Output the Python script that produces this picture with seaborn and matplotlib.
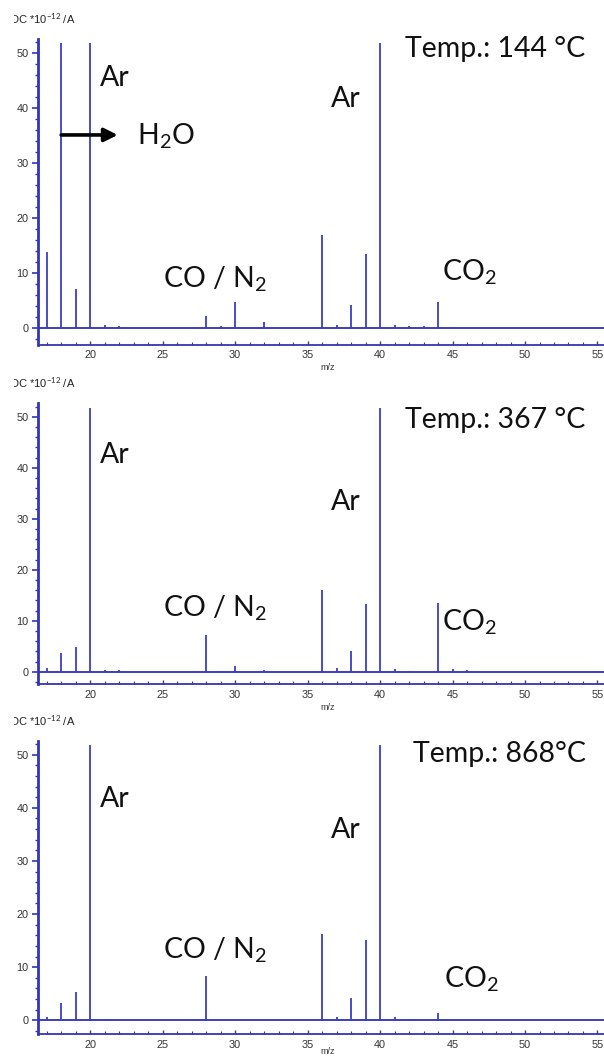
import matplotlib
matplotlib.use("Agg")
import matplotlib.pyplot as plt
import numpy as np
import pandas as pd
import seaborn as sns
from matplotlib.ticker import MultipleLocator
from matplotlib.transforms import Bbox, TransformedBbox

# m/z channels and ion currents (x 1e-12 A) at three temperatures
mz = list(range(17, 56))

current_144 = [13.8, 51.8, 7.1, 51.8, 0.5, 0.3, 0, 0, 0, 0, 0, 2.1, 0.3, 4.7, 0,
               1.1, 0, 0, 0, 16.9, 0.5, 4.2, 13.4, 51.8, 0.6, 0.3, 0.3, 4.8, 0.2,
               0, 0, 0, 0, 0, 0, 0, 0, 0, 0]
current_367 = [0.8, 3.7, 4.8, 51.8, 0.4, 0.3, 0, 0, 0, 0, 0, 7.3, 0.2, 1.1, 0,
               0.4, 0, 0, 0, 16.0, 0.8, 4.0, 13.3, 51.8, 0.6, 0.2, 0, 13.4, 0.6,
               0.3, 0, 0, 0, 0, 0, 0, 0, 0, 0]
current_868 = [0.6, 3.3, 5.4, 51.8, 0.3, 0, 0, 0, 0, 0, 0, 8.4, 0, 0, 0,
               0, 0, 0, 0, 16.3, 0.6, 4.2, 15.1, 51.8, 0.6, 0.3, 0, 1.3, 0,
               0, 0, 0, 0, 0, 0, 0, 0, 0, 0]

temperature_labels = ["Temp.: 144 °C", "Temp.: 367 °C", "Temp.: 868°C"]

df = pd.DataFrame({
    "mz": mz * 3,
    "current": current_144 + current_367 + current_868,
    "panel": [0] * len(mz) + [1] * len(mz) + [2] * len(mz),
})

sns.set_style("ticks")
plt.rcParams["font.family"] = ["Lato", "DejaVu Sans"]
plt.rcParams["mathtext.fontset"] = "custom"
plt.rcParams["mathtext.rm"] = "Lato"
plt.rcParams["mathtext.it"] = "Lato"

W, H = 604, 1057
BLUE = "#3d3dc4"
AXBLUE = "#3434b8"
TICKFONT = ["Liberation Sans", "DejaVu Sans"]

fig = plt.figure(figsize=(W / 100, H / 100), dpi=100)

# panel frames in pixels (top, bottom) and y ranges
frames = [(38.7, 344.5, (-3.0, 52.6)),
          (403.0, 684.0, (-2.4, 52.7)),
          (741.0, 1034.0, (-2.6, 52.6))]

# label positions (x left, baseline y) per panel
ar1_pos = [(20.7, 44.0), (20.7, 41.0), (20.7, 40.2)]
ar2_pos = [(36.6, 40.2), (36.6, 31.8), (36.6, 34.3)]
temp_pos = [(41.7, 49.3), (41.7, 47.8), (42.3, 48.7)]
co_pos = [(25.0, 7.45), (25.0, 10.9), (25.05, 11.6)]
co2_pos = [(44.3, 8.7), (44.3, 8.1), (44.4, 6.2)]

BIG = 20.5
xlim = (16.4, 55.45)
mz_label_y = [368, 707, 1052]

for i, (top, bottom, ylim) in enumerate(frames):
    ax = fig.add_axes([38 / W, 1 - bottom / H, (W - 38) / W, (bottom - top) / H])
    sub = df[df["panel"] == i]
    ax.vlines(sub["mz"], 0, sub["current"], color=BLUE, lw=1.3)
    ax.axhline(0, color=BLUE, lw=1.4)
    ax.set_xlim(*xlim)
    ax.set_ylim(*ylim)
    sns.despine(ax=ax, top=True, right=True)
    ax.spines["left"].set_color(AXBLUE)
    ax.spines["left"].set_linewidth(2.0)
    ax.spines["bottom"].set_color(AXBLUE)
    ax.spines["bottom"].set_linewidth(1.3)

    ax.xaxis.set_major_locator(MultipleLocator(5))
    ax.xaxis.set_minor_locator(MultipleLocator(1))
    ax.yaxis.set_major_locator(MultipleLocator(10))
    ax.yaxis.set_minor_locator(MultipleLocator(2))
    ax.set_xticks(range(20, 56, 5))
    ax.set_yticks(range(0, 51, 10))
    ax.tick_params(axis="x", which="major", direction="in", length=3, width=1,
                   color="#444444", pad=4, labelsize=7.8, labelcolor="#333333")
    ax.tick_params(axis="x", which="minor", direction="in", length=2, width=0.8,
                   color="#444444")
    ax.tick_params(axis="y", which="major", direction="out", length=4, width=1.2,
                   color=AXBLUE, pad=3, labelsize=7.8, labelcolor="#333333")
    ax.tick_params(axis="y", which="minor", direction="out", length=2.5,
                   width=1, color=AXBLUE)
    for lab in ax.get_xticklabels() + ax.get_yticklabels():
        lab.set_family(TICKFONT)
    ax.set_facecolor("white")
    ax.grid(False)

    ax.text(*ar1_pos[i], "Ar", fontsize=BIG, ha="left", va="baseline", color="#111111")
    ax.text(*ar2_pos[i], "Ar", fontsize=BIG, ha="left", va="baseline", color="#111111")
    ax.text(*temp_pos[i], temperature_labels[i], fontsize=BIG, ha="left",
            va="baseline", color="#111111")
    ax.text(*co_pos[i], r"CO / N$_\mathrm{2}$", fontsize=BIG, ha="left",
            va="baseline", color="#111111")
    ax.text(*co2_pos[i], r"CO$_\mathrm{2}$", fontsize=BIG, ha="left",
            va="baseline", color="#111111")

    if i == 0:
        ax.annotate("", xy=(21.9, 35.1), xytext=(18.0, 35.1),
                    arrowprops=dict(arrowstyle="-|>", color="black", lw=2.6,
                                    mutation_scale=20, shrinkA=0, shrinkB=0))
        ax.text(23.2, 33.3, r"H$_\mathrm{2}$O", fontsize=BIG, ha="left",
                va="baseline", color="#111111")

    # unit label of the ion current, partially clipped at the left border
    t = fig.text(7 / W, 1 - (top - 20) / H, "IDC *10$^{-12}$ /A", fontsize=8,
                 family=TICKFONT, color="#222222", ha="left", va="center")
    t.set_clip_on(True)
    t.set_clip_box(TransformedBbox(Bbox([[14 / W, 0], [1, 1]]), fig.transFigure))

    fig.text(328 / W, 1 - mz_label_y[i] / H, "m/z", fontsize=6.5,
             family=TICKFONT, color="#333333", ha="center", va="center")

fig.savefig("out.png", dpi=100, facecolor="white")
